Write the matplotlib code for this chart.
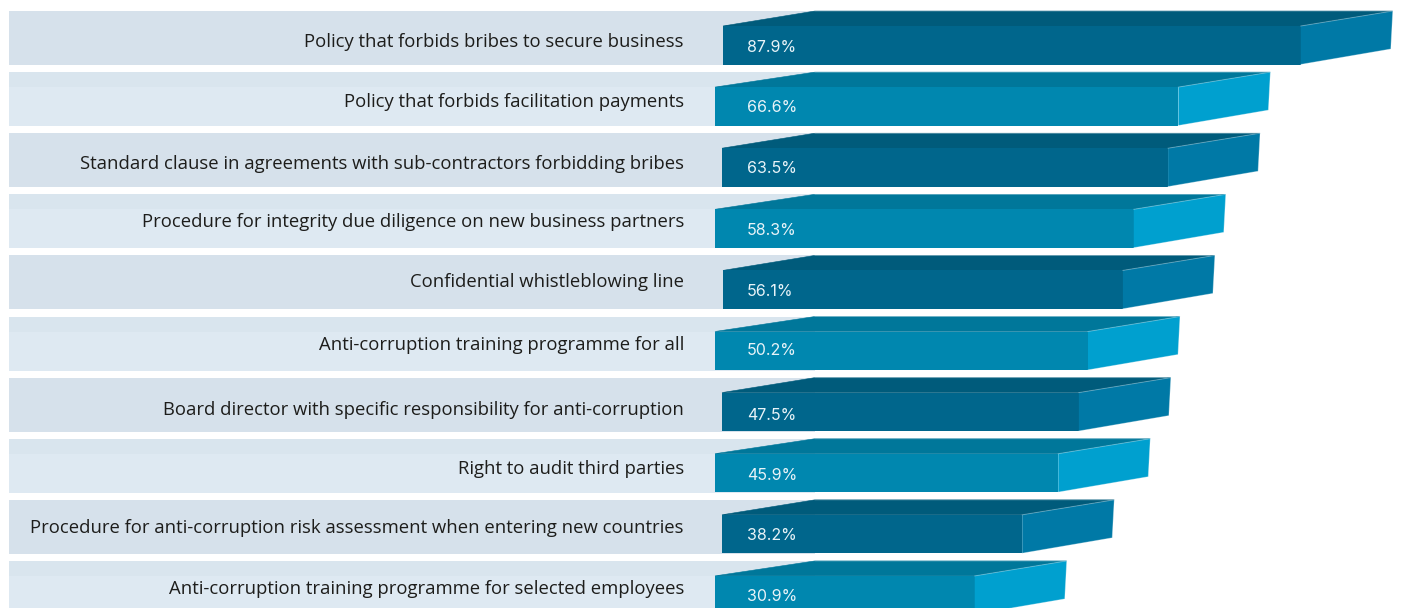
import matplotlib
matplotlib.use('Agg')
import matplotlib.pyplot as plt
from matplotlib.patches import Polygon, Rectangle

labels = [
    'Policy that forbids bribes to secure business',
    'Policy that forbids facilitation payments',
    'Standard clause in agreements with sub-contractors forbidding bribes',
    'Procedure for integrity due diligence on new business partners',
    'Confidential whistleblowing line',
    'Anti-corruption training programme for all',
    'Board director with specific responsibility for anti-corruption',
    'Right to audit third parties',
    'Procedure for anti-corruption risk assessment when entering new countries',
    'Anti-corruption training programme for selected employees',
]
value_labels = ['87.9%', '66.6%', '63.5%', '58.3%', '56.1%', '50.2%', '47.5%', '45.9%', '38.2%', '30.9%']
# bar lengths as drawn in the picture, they differ a bit from the printed numbers
bar_lengths = [87.9, 66.5, 64.7, 58.7, 56.8, 50.7, 49.1, 45.5, 39.2, 30.9]

W, H = 1401, 608
PX_PER_PCT = 5.72
ZERO_PX = 798
ROW_PX = 61.1
TOP_PX = 11

# data x is percent, data y is row number
fig = plt.figure(figsize=(W / 100, H / 100), dpi=100)
ax = fig.add_axes([0, 0, 1, 1])
ax.set_xlim(-ZERO_PX / PX_PER_PCT, (W - ZERO_PX) / PX_PER_PCT)
ax.set_ylim((H - TOP_PX) / ROW_PX, -TOP_PX / ROW_PX)
ax.axis('off')

depth = 92 / PX_PER_PCT
rise = 15 / ROW_PX
row_h = 54 / ROW_PX
front_h = 38.5 / ROW_PX
band_left = (9 - ZERO_PX) / PX_PER_PCT
back_left = (815 - ZERO_PX) / PX_PER_PCT
starts = [723, 715, 722, 715, 723, 715, 722, 715, 722, 715]
# text sits a little unevenly in the rows, offsets in pixels from the row top
label_dy = [31, 30, 31, 28, 27, 28, 32, 30, 28, 28]
value_dy = [36.5, 35, 35, 36, 36, 34, 38, 37, 36, 36]

dark = dict(band='#d6e1eb', strip='#d6e1eb', front='#00668c', top='#005b7b', side='#0079a6')
light = dict(band='#dee9f2', strip='#d9e5ee', front='#0087af', top='#00779a', side='#00a0cf')

for i, (lab, vlab, v) in enumerate(zip(labels, value_labels, bar_lengths)):
    c = dark if i % 2 == 0 else light
    left = (starts[i] - ZERO_PX) / PX_PER_PCT

    ax.add_patch(Rectangle((band_left, i), back_left - band_left, row_h, fc=c['band'], ec='none', zorder=1))
    ax.add_patch(Rectangle((band_left, i), back_left - band_left, rise, fc=c['strip'], ec='none', zorder=1))

    ax.add_patch(Polygon([(left, i + rise), (back_left, i), (v + depth, i), (v, i + rise)],
                         fc=c['top'], ec=c['top'], lw=0.4, zorder=2))
    ax.add_patch(Rectangle((left, i + rise), v - left, front_h, fc=c['front'], ec='none', zorder=2.1))
    side = [(v, i + rise), (v + depth, i), (v + depth - 0.35, i + 38 / ROW_PX), (v, i + row_h - 0.01)]
    ax.add_patch(Polygon(side, fc=c['side'], ec='none', zorder=2.2))

    # faint light edges on the back and the side
    ax.plot([back_left, v + depth, v], [i, i, i + rise], color='white', alpha=0.3, lw=0.7, zorder=2.5)
    ax.plot([v + depth, v + depth - 0.35, v], [i, i + 38 / ROW_PX, i + row_h - 0.01],
            color='white', alpha=0.3, lw=0.7, zorder=2.5)

    ax.text((684 - ZERO_PX) / PX_PER_PCT, i + label_dy[i] / ROW_PX, lab, ha='right', va='center',
            fontsize=13.37, family='Open Sans', color='#1d1d1b', zorder=3)
    ax.text((747 - ZERO_PX) / PX_PER_PCT, i + value_dy[i] / ROW_PX, vlab, ha='left', va='center',
            fontsize=11.5, family='Inter', color='#e8f3f8', zorder=3)

fig.savefig('out.png', dpi=100)
